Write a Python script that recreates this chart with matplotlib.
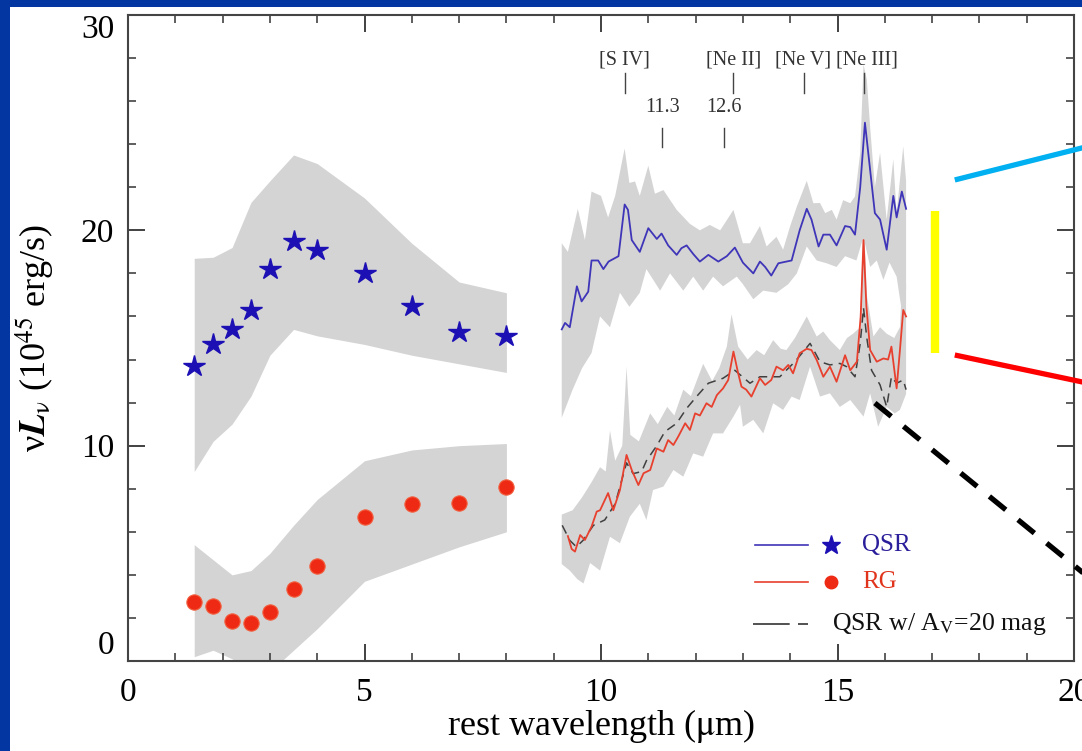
import numpy as np
import matplotlib
matplotlib.use("Agg")
import matplotlib.pyplot as plt
from matplotlib.patches import Rectangle

plt.rcParams['font.family'] = ['Liberation Serif', 'DejaVu Serif']
plt.rcParams['mathtext.fontset'] = 'stix'

# photometric points (rest wavelength, micron)
phot_x = [1.4, 1.8, 2.2, 2.6, 3.0, 3.5, 4.0, 5.0, 6.0, 7.0, 8.0]
qsr_phot = [13.7, 14.7, 15.4, 16.3, 18.2, 19.5, 19.1, 18.0, 16.5, 15.3, 15.1]
qsr_phot_hi = [18.7, 18.75, 19.2, 21.3, 22.3, 23.5, 23.1, 21.5, 19.4, 17.6, 17.1]
qsr_phot_lo = [8.8, 10.2, 11.0, 12.3, 14.2, 15.4, 15.1, 14.7, 14.2, 13.8, 13.4]
rg_phot = [2.75, 2.55, 1.87, 1.76, 2.29, 3.34, 4.41, 6.7, 7.3, 7.35, 8.1]
rg_phot_hi = [5.4, 4.7, 4.0, 4.2, 5.0, 6.3, 7.5, 9.3, 9.8, 10.0, 10.1]
rg_phot_lo = [0.2, 0.5, 0.1, -0.5, -0.5, 0.5, 1.5, 3.7, 4.5, 5.3, 6.0]

# QSR mean spectrum
qsr_wl = [9.17, 9.24, 9.34, 9.49, 9.59, 9.73, 9.80, 9.94, 10.05, 10.16, 10.37, 10.50,
          10.57, 10.65, 10.82, 11.00, 11.18, 11.28, 11.42, 11.60, 11.70, 11.81, 11.95,
          12.09, 12.27, 12.48, 12.66, 12.83, 13.00, 13.22, 13.36, 13.47, 13.60, 13.75,
          13.92, 14.03, 14.20, 14.35, 14.45, 14.60, 14.70, 14.84, 14.98, 15.16, 15.27,
          15.37, 15.48, 15.58, 15.69, 15.79, 15.90, 16.04, 16.18, 16.25, 16.36, 16.45]
qsr_spec = [15.4, 15.7, 15.5, 17.4, 16.7, 17.15, 18.6, 18.6, 18.2, 18.55, 18.8, 21.2,
            20.95, 19.55, 19.0, 20.1, 19.6, 19.85, 19.3, 18.86, 19.17, 19.3, 18.9,
            18.55, 18.86, 18.55, 18.8, 19.2, 18.5, 18.0, 18.55, 18.3, 17.9, 18.47,
            18.55, 18.6, 20.0, 21.0, 20.5, 19.25, 19.8, 19.8, 19.3, 20.2, 20.15,
            19.8, 22.0, 25.0, 22.8, 20.8, 20.5, 19.1, 21.6, 20.6, 21.8, 21.0]

qsr_hi_wl = [9.17, 9.30, 9.51, 9.66, 9.80, 10.00, 10.15, 10.30, 10.50, 10.60, 10.72,
             10.82, 11.00, 11.14, 11.32, 11.60, 11.88, 12.09, 12.30, 12.52, 12.80, 13.00,
             13.15, 13.36, 13.50, 13.71, 13.85, 14.00, 14.14, 14.35, 14.49, 14.63, 14.74,
             14.88, 14.98, 15.12, 15.27, 15.37, 15.48, 15.55, 15.62, 15.69, 15.79, 15.90,
             16.04, 16.18, 16.25, 16.39, 16.45]
qsr_hi = [19.4, 19.0, 21.0, 19.55, 21.8, 21.6, 20.6, 21.6, 23.8, 22.2, 22.27,
          21.6, 23.0, 21.7, 21.87, 20.95, 20.3, 20.0, 20.25, 20.0, 20.95, 19.4,
          19.4, 20.2, 19.25, 19.7, 19.1, 20.2, 21.1, 22.3, 21.26, 21.27, 20.8,
          20.95, 20.5, 21.4, 21.26, 21.57, 23.6, 27.7, 27.0, 24.8, 22.0, 23.6,
          20.5, 23.3, 20.8, 23.9, 22.3]
qsr_lo_wl = [9.17, 9.40, 9.60, 9.80, 9.98, 10.19, 10.40, 10.60, 10.82, 10.96, 11.25,
             11.46, 11.74, 11.95, 12.16, 12.37, 12.58, 12.87, 13.00, 13.22, 13.43, 13.71,
             13.96, 14.14, 14.35, 14.56, 14.77, 14.98, 15.16, 15.40, 15.55, 15.69, 15.83,
             15.97, 16.10, 16.25, 16.39, 16.45]
qsr_lo = [11.3, 12.6, 13.6, 14.3, 16.0, 15.5, 17.1, 16.45, 17.1, 18.2, 17.2,
          18.0, 17.2, 17.85, 17.2, 17.85, 17.4, 17.85, 17.5, 16.8, 17.2, 17.1,
          17.5, 18.0, 19.25, 18.6, 18.47, 18.3, 18.8, 18.6, 19.7, 18.3, 18.6,
          17.7, 18.5, 17.85, 15.8, 17.3]

# RG mean spectrum
rg_wl = [9.30, 9.38, 9.45, 9.56, 9.66, 9.80, 9.91, 9.98, 10.15, 10.26, 10.40, 10.54,
         10.65, 10.79, 10.90, 11.04, 11.18, 11.32, 11.42, 11.53, 11.63, 11.78, 11.88,
         11.99, 12.09, 12.23, 12.34, 12.45, 12.58, 12.69, 12.80, 12.90, 12.97, 13.07,
         13.18, 13.36, 13.47, 13.60, 13.71, 13.85, 13.96, 14.06, 14.20, 14.35, 14.45,
         14.56, 14.70, 14.84, 14.98, 15.16, 15.27, 15.41, 15.49, 15.55, 15.61, 15.69,
         15.83, 15.97, 16.07, 16.14, 16.25, 16.32, 16.39, 16.45]
rg_spec = [5.8, 5.2, 5.08, 5.85, 5.62, 6.24, 6.94, 7.0, 7.8, 7.0, 7.94, 9.57,
           8.87, 8.17, 8.72, 8.87, 9.87, 9.72, 10.26, 10.03, 10.41, 11.04, 10.73,
           11.5, 11.4, 11.97, 11.8, 12.35, 12.66, 13.05, 14.37, 13.36, 12.74, 12.6,
           12.28, 13.13, 12.82, 13.05, 13.67, 13.5, 13.75, 13.36, 14.29, 14.5, 14.44,
           13.98, 13.2, 13.67, 12.97, 14.2, 13.5, 13.9, 16.0, 19.55, 16.5, 14.44,
           13.9, 14.05, 14.0, 14.6, 12.66, 14.44, 16.3, 16.0]

rg_hi_wl = [9.17, 9.40, 9.60, 9.80, 9.98, 10.10, 10.19, 10.30, 10.45, 10.54, 10.62,
            10.80, 11.04, 11.20, 11.40, 11.55, 11.74, 11.90, 12.16, 12.35, 12.50, 12.66,
            12.76, 12.90, 13.10, 13.29, 13.45, 13.64, 13.80, 13.92, 14.10, 14.35, 14.56,
            14.70, 14.84, 15.05, 15.20, 15.33, 15.48, 15.55, 15.62, 15.76, 15.90, 16.04,
            16.20, 16.32, 16.39, 16.45]
rg_hi = [6.8, 7.0, 7.6, 8.3, 9.0, 8.8, 10.7, 9.3, 10.0, 13.66, 10.5,
         10.2, 11.5, 11.0, 11.8, 11.4, 12.6, 12.3, 13.8, 13.0, 13.6, 14.6,
         16.1, 14.6, 14.0, 14.44, 14.2, 14.9, 14.5, 14.44, 15.0, 16.0, 15.07,
         15.3, 14.9, 14.44, 15.0, 15.2, 15.5, 21.0, 17.0, 15.07, 15.5, 15.2,
         15.0, 15.5, 18.5, 17.5]
rg_lo_wl = [9.17, 9.34, 9.50, 9.63, 9.77, 9.98, 10.19, 10.40, 10.61, 10.82, 10.96,
            11.10, 11.32, 11.53, 11.74, 11.95, 12.16, 12.37, 12.58, 12.80, 12.94, 13.00,
            13.22, 13.43, 13.64, 13.85, 14.03, 14.20, 14.42, 14.63, 14.84, 15.05, 15.27,
            15.55, 15.69, 15.86, 16.04, 16.21, 16.32, 16.45]
rg_lo = [4.5, 4.2, 3.8, 3.6, 4.55, 4.2, 5.77, 5.47, 6.7, 7.3, 6.55,
         7.94, 8.1, 8.87, 8.56, 9.64, 9.49, 10.57, 10.57, 11.35, 11.9, 10.88,
         11.2, 10.57, 11.97, 11.66, 12.28, 12.12, 13.67, 12.28, 12.43, 11.8, 12.12,
         11.35, 12.43, 10.88, 11.8, 11.5, 11.66, 12.4]

# QSR spectrum reddened with Av = 20 mag
av_wl = [9.18, 9.34, 9.48, 9.62, 9.84, 10.08, 10.30, 10.54, 10.68, 10.86, 10.96,
         11.18, 11.35, 11.60, 11.81, 12.02, 12.27, 12.58, 12.83, 13.15, 13.36, 13.78,
         14.10, 14.42, 14.63, 14.84, 15.05, 15.19, 15.37, 15.48, 15.55, 15.62, 15.72,
         15.90, 16.04, 16.14, 16.25, 16.39, 16.45]
av_spec = [6.3, 5.6, 5.3, 5.6, 6.3, 6.55, 7.3, 9.2, 8.7, 8.8, 9.3,
           10.0, 10.65, 11.04, 11.73, 12.28, 12.9, 13.13, 13.5, 12.9, 13.2, 13.2,
           13.9, 14.75, 13.9, 13.75, 13.82, 13.67, 13.2, 14.75, 16.4, 15.0, 13.5,
           12.82, 11.8, 13.2, 12.9, 13.05, 12.6]

# emission / PAH line markers
upper_lines = [10.5, 12.8, 14.3, 15.55]
upper_labels = ['[S IV]', '[Ne II]', '[Ne V]', '[Ne III]']
upper_label_x = [10.5, 12.8, 14.27, 15.62]
lower_lines = [11.3, 12.6]
lower_labels = ['11.3', '12.6']

gray = '#d4d4d4'
blue_line = '#3f35b8'
blue_mark = '#1c10b4'
red_line = '#e8402e'
red_mark = '#ee2a14'

fig = plt.figure(figsize=(10.82, 7.51), dpi=100)
fig.patch.set_facecolor('#0336a0')
fig.patches.append(Rectangle((10 / 1082, 0), 1, 1 - 7 / 751, transform=fig.transFigure,
                             facecolor='white', edgecolor='none', zorder=-1))
ax = fig.add_axes([128 / 1082, 1 - 661 / 751, 946 / 1082, 646 / 751])
ax.set_facecolor('white')

# gray ranges
ax.fill_between(phot_x, qsr_phot_lo, qsr_phot_hi, color=gray, lw=0, zorder=1)
ax.fill_between(phot_x, rg_phot_lo, rg_phot_hi, color=gray, lw=0, zorder=1)
ax.fill(np.concatenate([qsr_hi_wl, qsr_lo_wl[::-1]]), np.concatenate([qsr_hi, qsr_lo[::-1]]),
        color=gray, lw=0, zorder=1)
ax.fill(np.concatenate([rg_hi_wl, rg_lo_wl[::-1]]), np.concatenate([rg_hi, rg_lo[::-1]]),
        color=gray, lw=0, zorder=1)

ax.plot(qsr_wl, qsr_spec, color=blue_line, lw=1.3, zorder=3)
ax.plot(av_wl, av_spec, color='#404040', lw=1.1, dashes=(6, 4), zorder=3)
ax.plot(rg_wl, rg_spec, color=red_line, lw=1.3, zorder=4)

ax.plot(phot_x, qsr_phot, ls='none', marker='*', ms=16, color=blue_mark, mec=blue_mark, zorder=5)
ax.plot(phot_x, rg_phot, ls='none', marker='o', ms=11, color=red_mark, mec='#f26040', mew=0.8, zorder=5)

# line identifications
for x, lab, lx in zip(upper_lines, upper_labels, upper_label_x):
    ax.plot([x, x], [26.4, 27.3], color='#444444', lw=1)
    ax.text(lx, 27.9, lab, ha='center', va='center', fontsize=14.5, color='#333333')
for x, lab in zip(lower_lines, lower_labels):
    ax.plot([x, x], [23.85, 24.75], color='#444444', lw=1)
    ax.text(x, 25.7, lab, ha='center', va='center', fontsize=14.5, color='#333333')

# legend drawn by hand
ax.plot([0.663, 0.719], [0.180, 0.180], transform=ax.transAxes, color=blue_line, lw=1.2)
ax.plot([0.743], [0.180], transform=ax.transAxes, marker='*', ms=14, color=blue_mark)
ax.text(0.776, 0.180, 'QSR', transform=ax.transAxes, va='center', fontsize=18, color='#2a1e9a')
ax.plot([0.663, 0.719], [0.122, 0.122], transform=ax.transAxes, color=red_line, lw=1.2)
ax.plot([0.743], [0.122], transform=ax.transAxes, marker='o', ms=9, color=red_mark)
ax.text(0.776, 0.122, 'RG', transform=ax.transAxes, va='center', fontsize=18, color='#e0341c')
ax.plot([0.661, 0.719], [0.057, 0.057], transform=ax.transAxes, color='#333333', lw=1.2,
        dashes=(22, 5))
ax.text(0.744, 0.057, r'QSR w/ A$_\mathrm{V}$=20 mag', transform=ax.transAxes, va='center',
        fontsize=18.5, color='#111111')

# slide overlays
ax.plot([17.48, 20.3], [22.34, 23.9], color='#00b0f0', lw=3.8, clip_on=False, zorder=6,
        solid_capstyle='butt')
ax.plot([17.06, 17.06], [14.3, 20.9], color='#ffff00', lw=6, clip_on=False, zorder=6,
        solid_capstyle='butt')
ax.plot([17.48, 20.3], [14.21, 12.9], color='#ff0000', lw=3.8, clip_on=False, zorder=6,
        solid_capstyle='butt')
ax.plot([15.79, 20.3], [11.98, 3.9], color='black', lw=3.8, dashes=(4, 3), clip_on=False,
        zorder=6)

ax.set_xlim(0, 20)
ax.set_ylim(0, 30)
ax.set_xticks([0, 5, 10, 15, 20])
ax.set_xticks(np.arange(0, 21, 1), minor=True)
ax.set_yticks([0, 10, 20, 30])
ax.set_yticks(np.arange(0, 31, 2), minor=True)
ax.tick_params(which='both', direction='in', top=True, right=True, color='#333333',
               labelsize=24)
ax.tick_params(which='major', length=12, width=1.3)
ax.tick_params(which='minor', length=6, width=1.1)
ax.tick_params(axis='x', pad=12)
ax.tick_params(axis='y', pad=10)
for sp in ax.spines.values():
    sp.set_color('#444444')
    sp.set_linewidth(1.5)

yticks = ax.yaxis.get_major_ticks()
yticks[0].label1.set_va('bottom')
yticks[-1].label1.set_va('top')

ax.set_xlabel(r'rest wavelength ($\mathrm{\mu}$m)', fontsize=26, labelpad=-1)
ax.set_ylabel(r'ν$\mathbfit{L}_{\mathrm{\nu}}$ (10$^{45}$ erg/s)', fontsize=26, labelpad=17)

fig.savefig('out.png', dpi=100, facecolor=fig.get_facecolor())
